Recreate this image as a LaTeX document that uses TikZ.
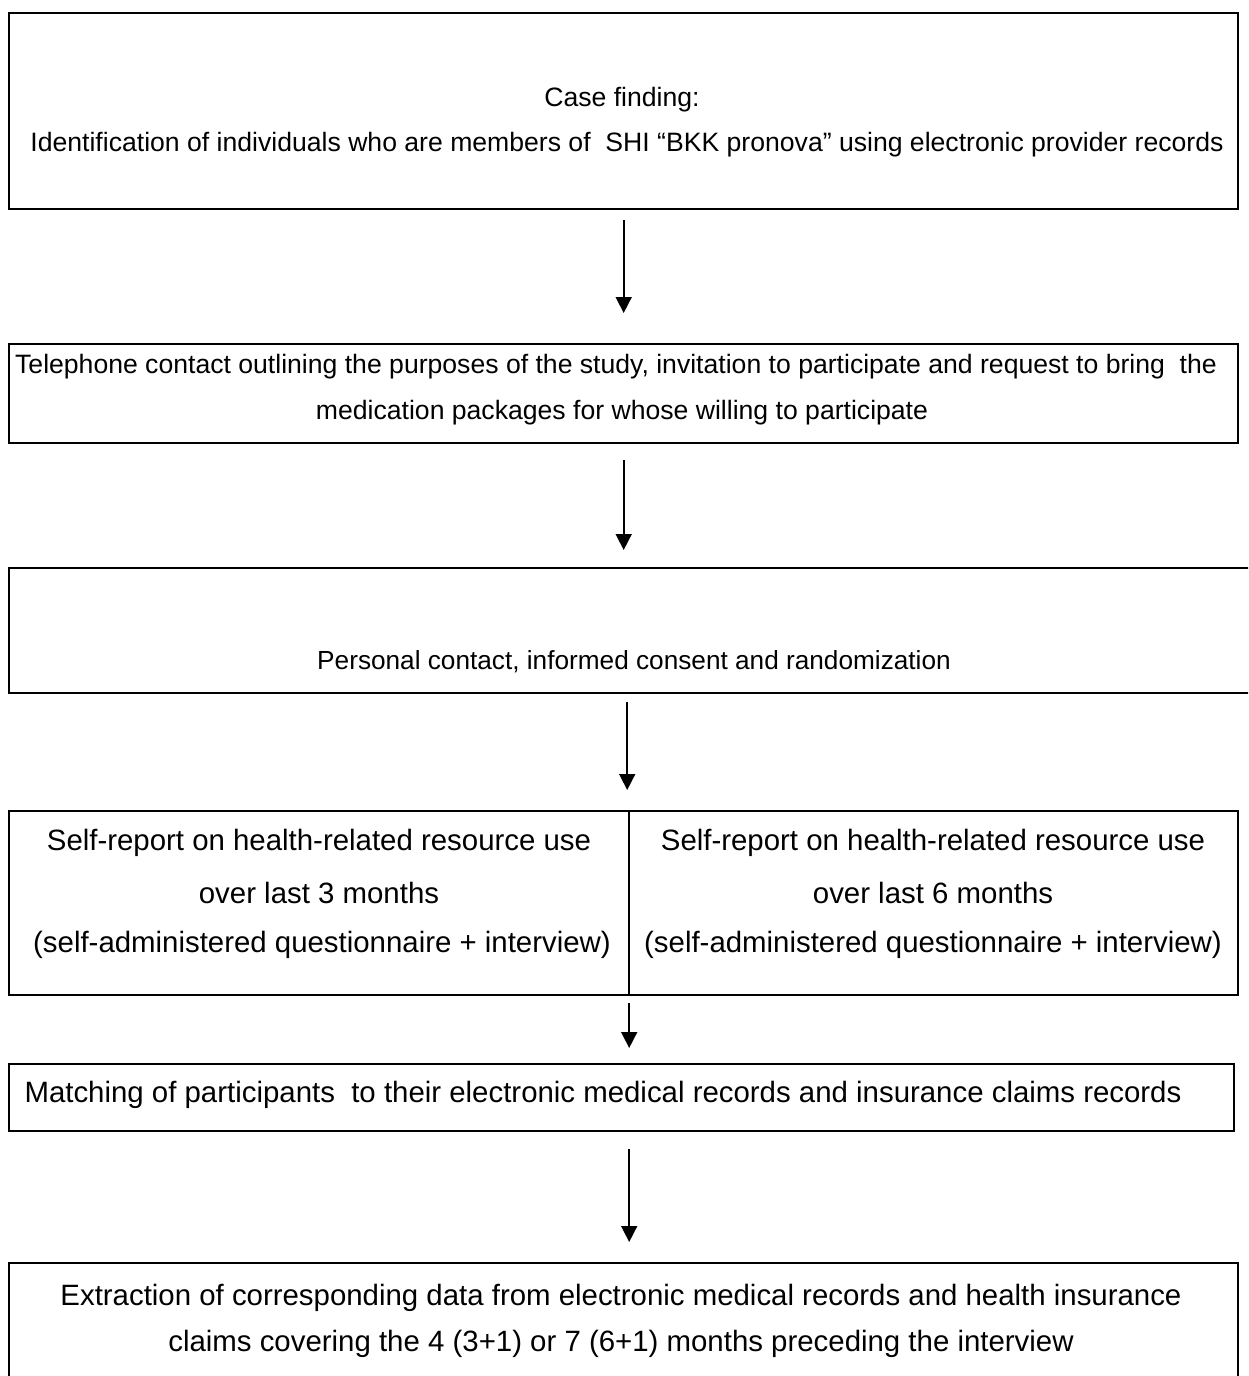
\documentclass[tikz,border=0pt]{standalone}
\usepackage{fontspec}
\setmainfont{Liberation Sans}
\usetikzlibrary{arrows.meta}
\begin{document}
\begin{tikzpicture}[x=1pt,y=-1pt,
  box/.style={draw, line width=2.4pt, inner sep=0pt, anchor=north west},
  arr/.style={line width=1.6pt, -{Triangle[width=16pt,length=16pt]}},
  txa/.style={inner sep=0pt, font=\fontsize{26.6}{30}\selectfont},
  txb/.style={inner sep=0pt, font=\fontsize{26.2}{30}\selectfont},
  txc/.style={inner sep=0pt, font=\fontsize{29.4}{34}\selectfont}]
\useasboundingbox (0,0) rectangle (1248,1376);
\clip (0,0) rectangle (1248,1376);
% boxes
\node[box, minimum width=1229pt, minimum height=196pt] (b1) at (8,12) {};
\node[box, minimum width=1229pt, minimum height=99pt] (b2) at (8,343) {};
\node[box, minimum width=1250pt, minimum height=125pt] (b3) at (8,567) {};
\node[box, minimum width=1229pt, minimum height=184pt] (b4) at (8,810) {};
\node[box, minimum width=1225pt, minimum height=67pt] (b5) at (8,1063) {};
\node[box, minimum width=1229pt, minimum height=140pt] (b6) at (8,1262) {};
\draw[line width=2.4pt] ([xshift=5.5pt]b4.north) -- ([xshift=5.5pt]b4.south);
% texts
\node[txa] (t1a) at (622,100) {Case finding:};
\node[txa] (t1b) at (627,145) {Identification of individuals who are members of\ \ SHI “BKK pronova” using electronic provider records};
\node[txa] (t2a) at (616,367) {Telephone contact outlining the purposes of the study, invitation to participate and request to bring\ \ the};
\node[txa] (t2b) at (622,413) {medication packages for whose willing to participate};
\node[txb] (t3) at (634,662) {Personal contact, informed consent and randomization};
\node[txc] (t4a) at (319,843) {Self-report on health-related resource use};
\node[txc] (t4b) at (319,893) {over last 3 months};
\node[txc] (t4c) at (322,945) {(self-administered questionnaire + interview)};
\node[txc] (t4d) at (933,843) {Self-report on health-related resource use};
\node[txc] (t4e) at (933,893) {over last 6 months};
\node[txc] (t4f) at (933,945) {(self-administered questionnaire + interview)};
\node[txc] (t5) at (603,1095) {Matching of participants\ \ to their electronic medical records and insurance claims records};
\node[txc] (t6a) at (621,1298) {Extraction of corresponding data from electronic medical records and health insurance};
\node[txc] (t6b) at (621,1344) {claims covering the 4 (3+1) or 7 (6+1) months preceding the interview};
% arrows
\draw[arr] ([yshift=-10pt]b1.south) -- ([yshift=30pt]b2.north);
\draw[arr] ([yshift=-16pt]b2.south) -- ([xshift=-10.5pt,yshift=17pt]b3.north);
\draw[arr] ([xshift=-7pt,yshift=-8pt]b3.south) -- ([xshift=3.5pt,yshift=20pt]b4.north);
\draw[arr] ([xshift=5.5pt,yshift=-7pt]b4.south) -- ([xshift=7.5pt,yshift=15pt]b5.north);
\draw[arr] ([xshift=7.5pt,yshift=-17pt]b5.south) -- ([xshift=5.5pt,yshift=20pt]b6.north);
\end{tikzpicture}
\end{document}
